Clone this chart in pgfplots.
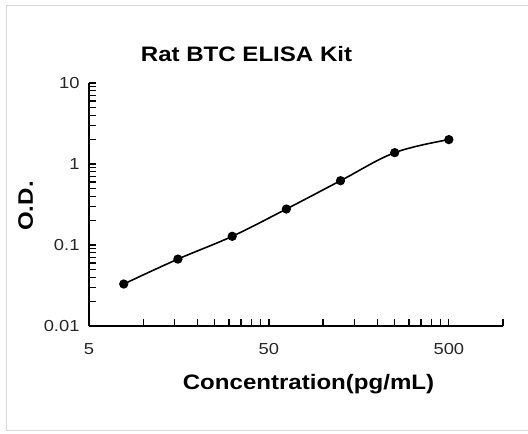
\documentclass[border=0pt]{standalone}
\usepackage{fontspec}
\setmainfont{Liberation Sans}[FakeStretch=1.15]
\usepackage{pgfplots}
\pgfplotsset{compat=1.18}
\definecolor{framegray}{HTML}{D9D9D9}

\begin{document}
\begin{tikzpicture}[x=1bp,y=1bp]
% picture area, pixel grid of the reference (axis origin at px 89,326)
\path[use as bounding box] (-89,-108) rectangle (439,326);
\draw[framegray, line width=1bp] (-82,-105) -- (-82,320) -- (445,320);
\draw[framegray, line width=1bp] (-82,-105) -- (445,-105);

\begin{axis}[
    at={(0,0)}, anchor=south west,
    scale only axis,
    width=414bp, height=243bp,
    xmode=log, ymode=log,
    xmin=5, xmax=1000,
    ymin=0.01, ymax=10,
    axis lines=left,
    axis line style={line width=1.6bp, -},
    tick align=inside,
    major tick length=7bp,
    minor tick length=7bp,
    tick style={black, line width=1.2bp},
    xtick={5,50,500},
    xticklabels={5,50,500},
    minor xtick={10,15,20,25,30,35,40,45,100,150,200,250,300,350,400,450,1000},
    ytick={0.01,0.1,1,10},
    yticklabels={0.01,0.1,1,10},
    minor ytick={0.02,0.03,0.04,0.05,0.06,0.07,0.08,0.09,0.2,0.3,0.4,0.5,0.6,0.7,0.8,0.9,2,3,4,5,6,7,8,9},
    ticklabel style={font=\fontsize{16}{19}\selectfont, text=black!85},
    yticklabel style={xshift=-6bp},
    xticklabel style={yshift=-14bp},
    /pgf/number format/assume math mode=true,
    clip=false,
]
\addplot[black, line width=1.6bp, smooth, tension=0.6, mark=*, mark size=3.8bp,
         mark options={solid, fill=black}]
  coordinates {
    (7.8,0.033) (15.6,0.067) (31.25,0.128) (62.5,0.278)
    (125,0.622) (250,1.38) (500,2.0)
  };
\end{axis}

\node[anchor=base, font=\bfseries\fontsize{21}{24}\selectfont] at (157.5,264.5) {Rat BTC ELISA Kit};
\node[anchor=base, font=\bfseries\fontsize{21}{24}\selectfont] at (219.5,-64) {Concentration(pg/mL)};
\node[anchor=base, rotate=90, font=\bfseries\fontsize{21}{24}\selectfont] at (-56,120) {O.D.};
\end{tikzpicture}
\end{document}
